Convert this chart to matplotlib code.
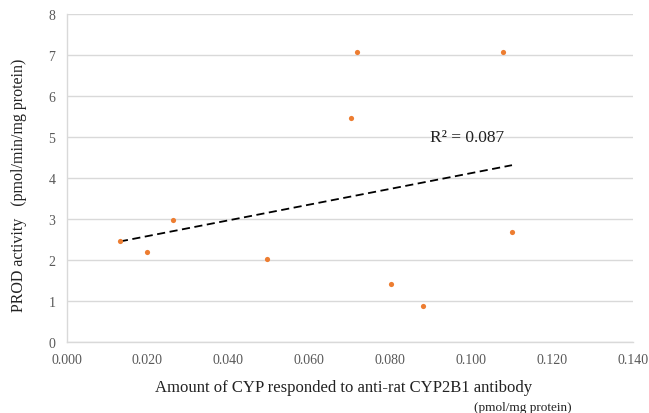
import matplotlib.pyplot as plt
import numpy as np

# values
cyp_amount = [0.0132, 0.0198, 0.0264, 0.0496, 0.0717, 0.0704, 0.1078, 0.1101, 0.0802, 0.0881]
prod_activity = [2.45, 2.19, 2.96, 2.02, 7.07, 5.47, 7.07, 2.69, 1.40, 0.86]
x_ticks = [0.000, 0.020, 0.040, 0.060, 0.080, 0.100, 0.120, 0.140]
y_ticks = [0, 1, 2, 3, 4, 5, 6, 7, 8]
r2_label = 'R² = 0.087'

plt.rcParams['font.family'] = ['Liberation Serif', 'DejaVu Serif']

fig = plt.figure(figsize=(6.49, 4.14), dpi=100)
ax = fig.add_axes([0.1025, 0.1722, 0.8728, 0.7916])

ax.scatter(cyp_amount, prod_activity, s=14, color='#ED7D31', zorder=3, linewidths=0)

# linear trend line
x = np.array(cyp_amount)
y = np.array(prod_activity)
slope, intercept = np.polyfit(x, y, 1)
xs = np.array([x.min(), x.max()])
ax.plot(xs, slope * xs + intercept, color='black', linestyle=(0, (4.5, 2.5)), linewidth=1.3, zorder=2)
ax.text(0.0898, 5.0, r2_label, fontsize=12.5, ha='left', va='center', color='#222222')

ax.set_xlim(0, 0.140)
ax.set_ylim(0, 8)
ax.set_xticks(x_ticks)
ax.set_xticklabels([f'{t:.3f}' for t in x_ticks])
ax.set_yticks(y_ticks)
ax.tick_params(length=0, labelsize=10, colors='#595959', pad=8)
ax.grid(axis='y', color='#D9D9D9', linewidth=1)
ax.set_axisbelow(True)
for side in ['top', 'right']:
    ax.spines[side].set_visible(False)
for side in ['left', 'bottom']:
    ax.spines[side].set_color('#D9D9D9')
    ax.spines[side].set_linewidth(1)

fig.text(0.029, 0.553, 'PROD activity   (pmol/min/mg protein)', rotation=90,
         ha='center', va='center', fontsize=11.5, color='#222222')
fig.text(0.530, 0.063, 'Amount of CYP responded to anti-rat CYP2B1 antibody',
         ha='center', va='center', fontsize=12, color='#222222')
fig.text(0.805, 0.014, '(pmol/mg protein)', ha='center', va='center', fontsize=9.5, color='#222222')

fig.savefig('out.png', dpi=100)
